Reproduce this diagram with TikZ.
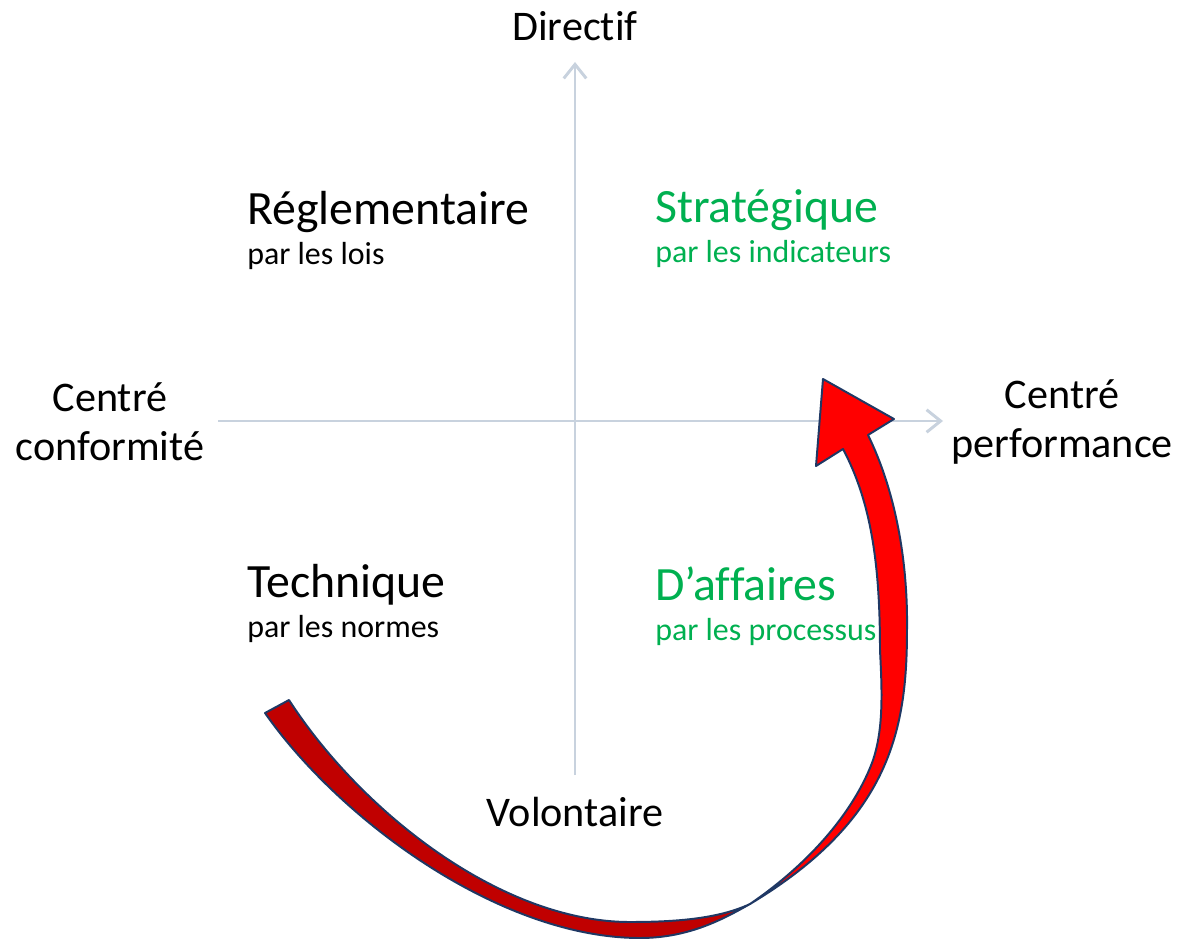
\documentclass[tikz,border=0pt]{standalone}
\usepackage{fontspec}
\setmainfont{Carlito}[Ligatures=NoCommon]
\usetikzlibrary{arrows.meta}
\definecolor{axisgrey}{HTML}{C8D2DE}
\definecolor{leafgreen}{HTML}{00B050}
\definecolor{darkred}{HTML}{C00000}
\definecolor{brightred}{HTML}{FF0000}
\definecolor{rimnavy}{HTML}{1F3864}
\begin{document}
\begin{tikzpicture}[y={-0.025cm}, x={0.025cm},
    axis/.style={axisgrey, line width=2.1pt, -{Straight Barb[length=10pt,width=16pt]}},
    axislabel/.style={inner sep=0pt, font=\fontsize{30}{35}\selectfont, align=center},
    quadtitle/.style={anchor=base west, inner sep=0pt, font=\fontsize{34}{40}\selectfont},
    quadsub/.style={anchor=base west, inner sep=0pt, font=\fontsize{22.7}{26}\selectfont},
    band/.style={draw=rimnavy, line width=1.4pt, line join=round}]
    \useasboundingbox (0,0) rectangle (1179,939);
    \coordinate (west) at (218,421);
    \coordinate (east) at (943,421);
    \coordinate (south) at (575,775);
    \coordinate (north) at (575,62);
    \draw[axis] (west) -- (east);
    \draw[axis] (south) -- (north);
    \node[axislabel, anchor=base] (dir) at (575,41) {Directif};
    \node[axislabel, anchor=base] (vol) at (575,826) {Volontaire};
    \node[axislabel] (conf) at (110,422) {Centré\\conformité};
    \node[axislabel] (perf) at (1062,422) {Centré\\performance};
    \foreach \nm/\px/\py/\ti/\su/\col in {regl/247/225/Réglementaire/par les lois/black,
        strat/655/223/Stratégique/par les indicateurs/leafgreen,
        tech/247/597/Technique/par les normes/black,
        affr/655/600/D’affaires/par les processus/leafgreen} {
        \node[quadtitle, text=\col] (\nm) at (\px,\py) {\ti};
        \node[quadsub, text=\col] (\nm-sub) at (\px,\py+40) {\su};
    }
    % back face of the band, then the front face with the head
    \filldraw[band, fill=darkred] (265,713) .. controls (340,820) and (500,938) .. (640,938)
        .. controls (690,938) and (725,918) .. (750,904)
        .. controls (720,918) and (680,922) .. (630,922)
        .. controls (500,922) and (360,810) .. (289,700) -- cycle;
    \filldraw[band, fill=brightred] (750,904) .. controls (800,870) and (850,820) .. (872,763)
        .. controls (884,730) and (882,690) .. (880,650)
        .. controls (880,560) and (870,500) .. (843,449)
        -- (816,466) -- (823,379) -- (894,419) -- (868,435)
        .. controls (895,490) and (908,560) .. (907,630)
        .. controls (907,730) and (890,820) .. (750,904) -- cycle;
\end{tikzpicture}
\end{document}
